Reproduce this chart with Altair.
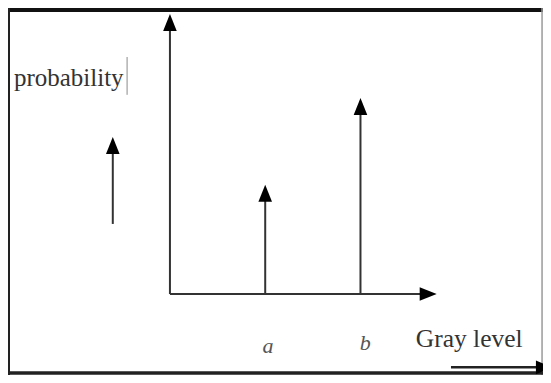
import altair as alt
import pandas as pd

# ---- data ----
gray_levels = ["a", "b"]          # the two gray levels
gray_pos = [1, 2]                 # their place on the gray-level axis
probs = [0.39, 0.70]              # probability of each gray level
axis_titles = ["probability", "Gray level"]

XDOM = [-1.7, 3.916]
YDOM = [-0.2893, 1.021]
xs = alt.Scale(domain=XDOM, nice=False, zero=False)
ys = alt.Scale(domain=YDOM, nice=False, zero=False)
FONT = "Liberation Serif"

# line segments: frame, axes, impulse shafts, decorative arrows
seg_rows = [
    # frame
    dict(x=-1.70, x2=3.916, y=1.014, y2=1.014, w=4, c="#111111"),
    dict(x=-1.6895, x2=-1.6895, y=1.021, y2=-0.2893, w=2, c="#222222"),
    dict(x=3.906, x2=3.906, y=1.021, y2=-0.2893, w=1.5, c="#9a9a9a"),
    dict(x=-1.70, x2=3.916, y=-0.2822, y2=-0.2822, w=3.5, c="#222222"),
    # axes
    dict(x=0, x2=0, y=0, y2=0.96, w=2, c="#333333"),
    dict(x=0, x2=2.72, y=0, y2=0, w=2, c="#333333"),
    # left decorative arrow and bottom-right arrow
    dict(x=-0.6, x2=-0.6, y=0.25, y2=0.52, w=2, c="#333333"),
    dict(x=2.95, x2=3.9, y=-0.262, y2=-0.262, w=2.5, c="#222222"),
    # text cursor after "probability"
    dict(x=-0.45, x2=-0.45, y=0.711, y2=0.846, w=1, c="#8a8a8a"),
]
for g, p in zip(gray_pos, probs):
    seg_rows.append(dict(x=g, x2=g, y=0, y2=p - 0.03, w=2, c="#333333"))
segs = pd.DataFrame(seg_rows)

UP = "M0,0L0.8,2L-0.8,2Z"
RIGHT = "M0,0L-2,-0.8L-2,0.8Z"
head_rows = [
    dict(x=0, y=1.0, s=UP),
    dict(x=2.80, y=0, s=RIGHT),
    dict(x=-0.6, y=0.56, s=UP),
    dict(x=4.02, y=-0.262, s=RIGHT),
]
for g, p in zip(gray_pos, probs):
    head_rows.append(dict(x=g, y=p, s=UP))
heads = pd.DataFrame(head_rows)

titles = pd.DataFrame({
    "x": [-1.638, 2.58],
    "y": [0.743, -0.190],
    "t": axis_titles,
    "fs": [25, 25.5],
})
labels = pd.DataFrame({
    "x": [g + 0.03 + 0.02 * i for i, g in enumerate(gray_pos)],
    "y": [-0.187, -0.176],
    "t": gray_levels,
})

rules = alt.Chart(segs).mark_rule(strokeCap="butt").encode(
    x=alt.X("x:Q", scale=xs, axis=None),
    x2="x2:Q",
    y=alt.Y("y:Q", scale=ys, axis=None),
    y2="y2:Q",
    strokeWidth=alt.StrokeWidth("w:Q", scale=None),
    color=alt.Color("c:N", scale=None),
)

arrowheads = alt.Chart(heads).mark_point(
    filled=True, color="#000000", opacity=1, size=289, strokeWidth=0
).encode(
    x=alt.X("x:Q", scale=xs, axis=None),
    y=alt.Y("y:Q", scale=ys, axis=None),
    shape=alt.Shape("s:N", scale=None),
)

title_text = alt.Chart(titles).mark_text(
    font=FONT, align="left", baseline="alphabetic", color="#333333"
).encode(
    x=alt.X("x:Q", scale=xs, axis=None),
    y=alt.Y("y:Q", scale=ys, axis=None),
    text="t:N",
    size=alt.Size("fs:Q", scale=None),
)

label_text = alt.Chart(labels).mark_text(
    font=FONT, fontSize=22, fontStyle="italic", align="center", baseline="middle",
    color="#555555"
).encode(
    x=alt.X("x:Q", scale=xs, axis=None),
    y=alt.Y("y:Q", scale=ys, axis=None),
    text="t:N",
)

chart = alt.layer(rules, arrowheads, title_text, label_text).properties(
    width=535, height=367, padding=0,
    autosize=alt.AutoSizeParams(type="none"),
    background="white",
).configure_view(strokeWidth=0)

chart.save("out.html", embed_options={"renderer": "svg", "actions": False})
